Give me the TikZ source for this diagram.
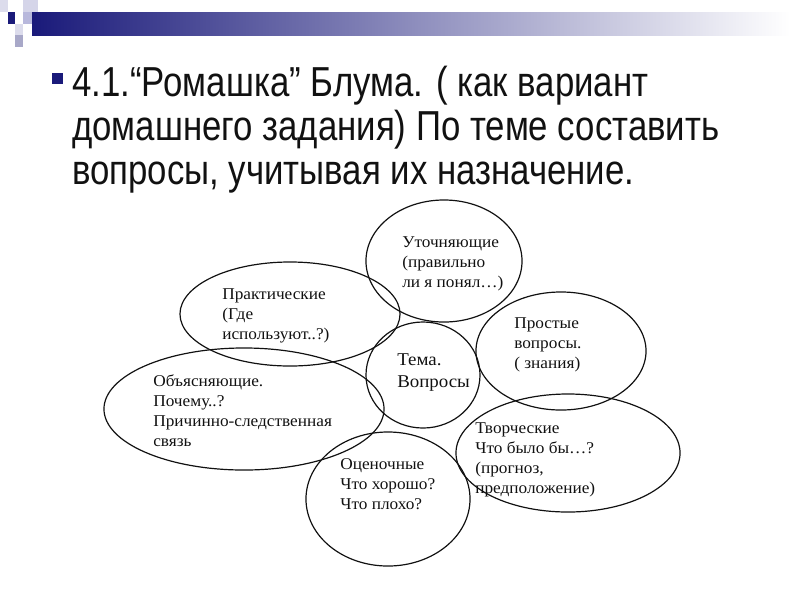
\documentclass[tikz,border=0pt]{standalone}
\usepackage{fontspec}
\setmainfont{Liberation Serif}[FakeStretch=1.05]
\newfontfamily\headfont[FakeStretch=0.83]{Liberation Sans}
\usetikzlibrary{shapes.geometric}
\definecolor{romnavy}{HTML}{1A1A7A}
\definecolor{romlav}{HTML}{B8B8DC}
\definecolor{rompale}{HTML}{DCDCEC}
\definecolor{romgrey}{HTML}{A8A8C8}
\definecolor{romink}{HTML}{111111}

\begin{document}
\begin{tikzpicture}[x=0.025cm, y=-0.025cm,
  petal/.style={draw=romink, line width=0.85pt, ellipse, inner sep=0pt},
  petaltext/.style={anchor=base west, align=left, inner sep=0pt, text=romink,
    font=\fontsize{11.7}{14.2}\selectfont},
  headline/.style={anchor=base west, inner sep=0pt, text=romink,
    font=\headfont\fontsize{29.8}{31.2}\selectfont}]
  \useasboundingbox (0,0) rectangle (800,600);
  % header band
  \fill[rompale] (0,0) rectangle (8,12);
  \fill[rompale!80!romlav] (23,0) rectangle (38,12);
  \fill[romnavy] (8,12) rectangle (15,24);
  \fill[romlav] (23,12) rectangle (32,24);
  \fill[rompale] (15,24) rectangle (23,35);
  \fill[romgrey] (15,35) rectangle (23,47);
  \shade[left color=romnavy, right color=white] (32,12) rectangle (790,35);
  % title
  \fill[romnavy] (52,73) rectangle (63,84);
  \node[headline] (title1) at (72,96) {4.1.“Ромашка” Блума. ( как вариант};
  \node[headline] (title2) at (72,140) {домашнего задания) По теме составить};
  \node[headline] (title3) at (72,184) {вопросы, учитывая их назначение.};
  % petals
  \node[petal, minimum width=3.9cm, minimum height=3.05cm] (utoch) at (444,261) {};
  \node[petal, minimum width=5.5cm, minimum height=2.6cm] (prakt) at (290,314) {};
  \node[petal, minimum width=4.25cm, minimum height=2.95cm] (prost) at (561,351) {};
  \node[petal, minimum width=2.85cm, minimum height=2.65cm] (tema) at (423,375) {};
  \node[petal, minimum width=7cm, minimum height=3.05cm] (obyas) at (244,409) {};
  \node[petal, minimum width=5.6cm, minimum height=2.95cm] (tvorch) at (568,453) {};
  \node[petal, minimum width=4.1cm, minimum height=3.35cm] (ocen) at (388,499) {};
  % texts (base = last line)
  \node[petaltext] (utochtxt) at (402,287) {Уточняющие\\(правильно\\ли я понял…)};
  \node[petaltext] (prakttxt) at (222,339) {Практические\\(Где\\используют..?)};
  \node[petaltext] (prosttxt) at (514,368) {Простые\\вопросы.\\( знания)};
  \node[petaltext, font=\fontsize{12.8}{15.6}\selectfont] (trematxt) at (397,387) {Тема.\\Вопросы};
  \node[petaltext] (obyastxt) at (153,446) {Объясняющие.\\Почему..?\\Причинно-следственная\\связь};
  \node[petaltext] (tvorchtxt) at (475,493) {Творческие\\Что было бы…?\\(прогноз,\\предположение)};
  \node[petaltext] (ocentxt) at (340,509) {Оценочные\\Что хорошо?\\Что плохо?};
\end{tikzpicture}
\end{document}
